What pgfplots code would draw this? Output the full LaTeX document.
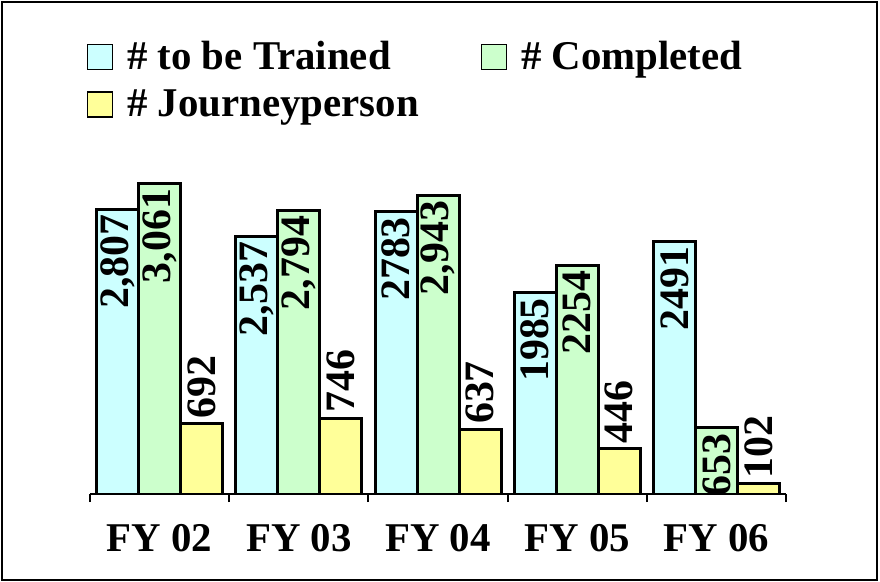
\documentclass[border=0pt]{standalone}
\usepackage{pgfplots}
\pgfplotsset{compat=1.18}
\usepackage{fontspec}
\setmainfont{Liberation Serif}
\definecolor{trained}{HTML}{CCFFFF}
\definecolor{completed}{HTML}{CCFFCC}
\definecolor{journey}{HTML}{FFFF99}
\begin{document}
\begin{tikzpicture}
\useasboundingbox (0,0) rectangle (440bp,291bp);
\draw[line width=1bp] (1bp,1bp) rectangle (438.5bp,290bp);
\begin{axis}[
    at={(45bp,44bp)}, anchor=south west,
    scale only axis, width=348bp, height=172.5bp,
    ybar=0pt, bar width=21bp,
    ymin=0, ymax=3400,
    xmin=-0.5, xmax=4.5,
    axis x line*=bottom, x axis line style={-, line width=1bp},
    hide y axis,
    tick align=outside,
    xtick={0,...,4},
    xticklabels={FY 02,FY 03,FY 04,FY 05,FY 06},
    major tick length=0pt,
    xticklabel style={font=\bfseries\fontsize{20.5}{24}\selectfont, yshift=-11.5bp},
    extra x ticks={-0.5,0.5,1.5,2.5,3.5,4.5},
    extra x tick labels={},
    extra x tick style={major tick length=4bp, tick style={draw=black, line width=1bp}},
    point meta=explicit symbolic,
    nodes near coords,
    every node near coord/.append style={rotate=90, font=\bfseries\fontsize{21}{24}\selectfont, inner sep=2bp},
    legend columns=2,
    legend cell align=left,
    legend style={at={(-0.014,1.336)}, anchor=north west, draw=none, fill=none,
        font=\bfseries\fontsize{20.5}{24}\selectfont, row sep=4.5bp,
        /tikz/every odd column/.append style={column sep=5bp},
        /tikz/every even column/.append style={column sep=29bp}},
    legend image code/.code={\draw[#1, draw=black, line width=0.75bp] (0bp,-6.25bp) rectangle (12.5bp,6.25bp);},
]
\addplot[fill=trained, draw=black, line width=1.5bp,
    every node near coord/.append style={anchor=east}]
    coordinates {(0,2807)[2{,}807] (1,2537)[2{,}537] (2,2783)[2783] (3,1985)[1985] (4,2491)[2491]};
\addlegendentry{\# to be Trained}
\addplot[fill=completed, draw=black, line width=1.5bp,
    every node near coord/.append style={anchor=east}]
    coordinates {(0,3061)[3{,}061] (1,2794)[2{,}794] (2,2943)[2{,}943] (3,2254)[2254] (4,653)[653]};
\addlegendentry{\# Completed}
\addplot[fill=journey, draw=black, line width=1.5bp,
    every node near coord/.append style={anchor=west}]
    coordinates {(0,692)[692] (1,746)[746] (2,637)[637] (3,446)[446] (4,102)[102]};
\addlegendentry{\# Journeyperson}
\end{axis}
\end{tikzpicture}
\end{document}
